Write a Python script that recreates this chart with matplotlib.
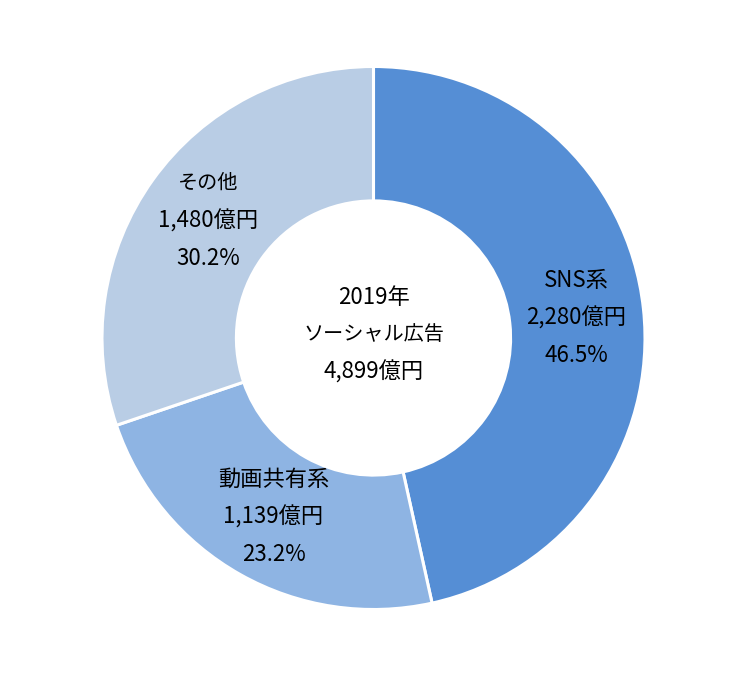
import numpy as np
import matplotlib
matplotlib.use("Agg")
import matplotlib.pyplot as plt

plt.rcParams['font.family'] = ['Noto Sans CJK JP', 'DejaVu Sans']

categories = ["SNS系", "動画共有系", "その他"]
values_oku = [2280, 1139, 1480]
value_labels = ["2,280億円", "1,139億円", "1,480億円"]
pct_labels = ["46.5%", "23.2%", "30.2%"]
colors = ["#558ED5", "#8EB4E3", "#B9CDE5"]
center_lines = ["2019年", "ソーシャル広告", "4,899億円"]

W, H = 747, 676
fig = plt.figure(figsize=(W / 100, H / 100), dpi=100)
cx, cy, R = 373.5, 338, 271.5
ax = fig.add_axes([(cx - R) / W, (H - cy - R) / H, 2 * R / W, 2 * R / H])

wedges, _ = ax.pie(values_oku, colors=colors, startangle=90, counterclock=False,
                   radius=1.0,
                   wedgeprops=dict(width=0.495, edgecolor='white', linewidth=2.2))
ax.set_xlim(-1, 1)
ax.set_ylim(-1, 1)
ax.set_aspect('equal')
ax.axis('off')

fs = 16
step = 27  # points between lines


def kana_size(s):
    # kana in the reference font are narrower than kanji; shrink kana-heavy lines
    nk = sum(1 for ch in s if '\u3040' <= ch <= '\u30ff')
    return fs - 1.5 if nk >= 2 else fs


def block(x, y, lines):
    n = len(lines)
    for i, s in enumerate(lines):
        off = ((n - 1) / 2 - i) * step
        ax.annotate(s, (x, y), xytext=(0, off), textcoords='offset points',
                    ha='center', va='center', fontsize=kana_size(s), color='black')


for w, cat, vl, pl in zip(wedges, categories, value_labels, pct_labels):
    ang = np.deg2rad((w.theta1 + w.theta2) / 2)
    r = 0.75
    block(r * np.cos(ang), r * np.sin(ang) - 0.006, [cat, vl, pl])

block(0, 0.012, center_lines)

fig.savefig("out.png", dpi=100)
